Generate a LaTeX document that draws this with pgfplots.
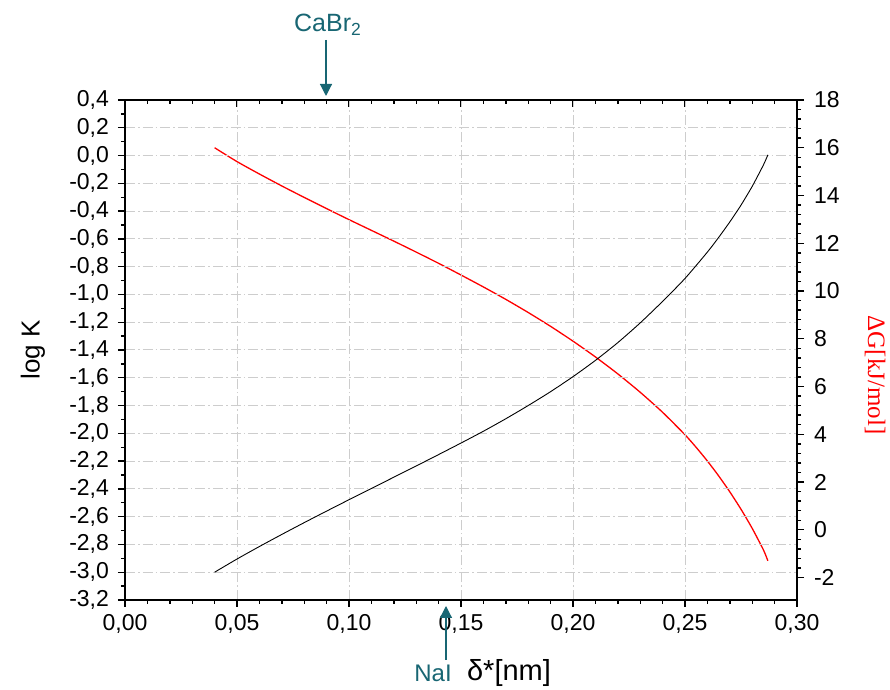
\documentclass[border=0pt]{standalone}
\usepackage{fontspec}
\setmainfont{Liberation Sans}
\newfontfamily\serifG{Liberation Serif}
\usepackage{pgfplots}
\pgfplotsset{compat=1.18}
\usetikzlibrary{arrows.meta}
\definecolor{tealann}{RGB}{24,102,115}
\definecolor{gridgray}{RGB}{205,205,205}

\pgfplotstableread{
x y
0.040 -3.000
0.050 -2.905
0.060 -2.815
0.070 -2.728
0.080 -2.643
0.090 -2.560
0.100 -2.478
0.110 -2.397
0.120 -2.316
0.130 -2.235
0.140 -2.153
0.150 -2.070
0.160 -1.985
0.170 -1.895
0.180 -1.800
0.190 -1.700
0.200 -1.592
0.210 -1.475
0.220 -1.347
0.230 -1.205
0.240 -1.050
0.250 -0.885
0.260 -0.695
0.265 -0.590
0.270 -0.478
0.275 -0.357
0.280 -0.222
0.285 -0.068
0.287 0.005
}\logK

\pgfplotstableread{
x y
0.040 16.00
0.050 15.42
0.060 14.90
0.070 14.40
0.080 13.92
0.090 13.45
0.100 12.99
0.110 12.54
0.120 12.09
0.130 11.63
0.140 11.16
0.150 10.67
0.160 10.17
0.170 9.65
0.180 9.10
0.190 8.52
0.200 7.90
0.210 7.24
0.220 6.53
0.230 5.76
0.240 4.92
0.250 3.98
0.255 3.45
0.260 2.88
0.265 2.26
0.270 1.59
0.275 0.86
0.280 0.06
0.285 -0.84
0.287 -1.30
}\dG

\begin{document}
\begin{tikzpicture}[x=1pt,y=1pt]
\useasboundingbox (0,0) rectangle (445,345);
\pgfplotsset{
  common/.style={
    at={(62.5pt,45pt)}, anchor=south west,
    scale only axis, width=336pt, height=250pt,
    xmin=0, xmax=0.3,
    major tick length=3.5pt, minor tick length=2pt,
    every tick/.style={black, line width=0.7pt},
    axis line style={line width=1pt},
    tick label style={font=\fontsize{11.5}{13}\selectfont},
    /pgf/number format/assume math mode=true,
  }
}
% top ticks (inward)
\begin{axis}[common,
  ymin=0, ymax=1, hide y axis,
  axis x line*=top, tick align=inside,
  xtick={0,0.05,0.1,0.15,0.2,0.25,0.3}, minor x tick num=4,
  xticklabels={}, axis line style={draw=none},
]
\end{axis}
% right axis
\begin{axis}[common,
  ymin=-2.94, ymax=18,
  axis x line=none, axis y line*=right, tick align=outside,
  ytick={-2,0,...,18}, minor y tick num=4,
  yticklabel style={xshift=1.5pt},
  axis line style={line width=1pt, -},
]
\addplot[red, line width=0.65pt, smooth, tension=0.4] table {\dG};
\end{axis}
% main axis
\begin{axis}[common,
  ymin=-3.2, ymax=0.4,
  tick align=outside,
  xtick pos=bottom, ytick pos=left,
  xtick={0,0.05,0.1,0.15,0.2,0.25,0.3}, minor x tick num=4,
  ytick={-3.2,-3.0,-2.8,-2.6,-2.4,-2.2,-2.0,-1.8,-1.6,-1.4,-1.2,-1.0,-0.8,-0.6,-0.4,-0.2,0,0.2,0.4},
  minor y tick num=1,
  xticklabel style={/pgf/number format/.cd, fixed, fixed zerofill, precision=2, use comma},
  yticklabel style={/pgf/number format/.cd, fixed, fixed zerofill, precision=1, use comma, /tikz/.cd, xshift=-1pt},
  scaled x ticks=false, scaled y ticks=false,
  grid=major,
  major grid style={gridgray, line width=0.5pt, dash pattern=on 5pt off 1.5pt on 0.8pt off 1.5pt},
]
\addplot[black, line width=0.45pt, smooth, tension=0.4] table {\logK};
\end{axis}
% axis titles
\node[rotate=90, font=\fontsize{13}{15}\selectfont] at (16.5,170) {log K};
\node[font=\fontsize{14.5}{16}\selectfont, anchor=west] at (230,8.5) {δ*[nm]};
\node[rotate=-90, red, font=\serifG\fontsize{12.5}{14}\selectfont] at (437.5,157.5) {ΔG[kJ/mol]};
% annotations
\node[tealann, font=\fontsize{12.5}{14}\selectfont] at (164,332.5) {CaBr\textsubscript{2}};
\draw[tealann, line width=0.6pt, -{Triangle[width=6pt,length=6pt]}] (163,325) -- (163,297);
\node[tealann, font=\fontsize{12}{14}\selectfont] at (216.5,8.5) {NaI};
\draw[tealann, line width=0.6pt, -{Triangle[width=6pt,length=6pt]}] (223,15) -- (223,42);
\end{tikzpicture}
\end{document}
